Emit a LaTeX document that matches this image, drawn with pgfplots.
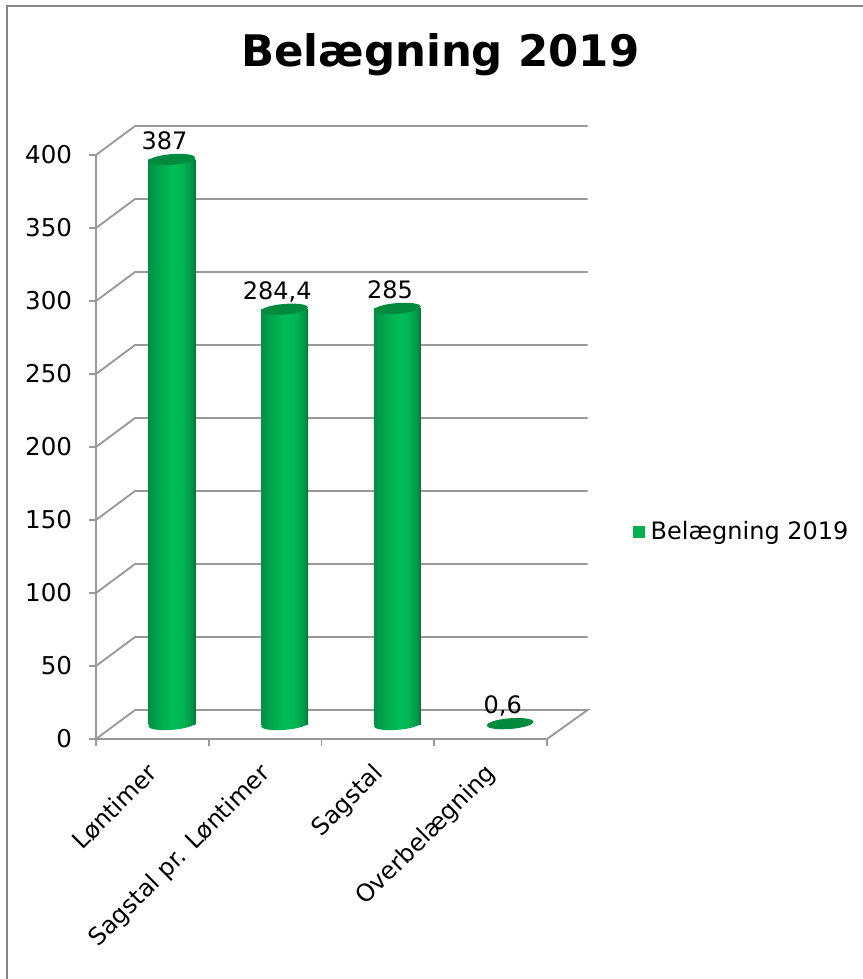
\documentclass[border=0pt]{standalone}
\usepackage{fontspec}
\setmainfont{DejaVu Sans}
\usepackage{pgfplots}
\pgfplotsset{compat=1.18}

\definecolor{gridc}{HTML}{999999}
\definecolor{framec}{HTML}{868686}
\definecolor{cyltopc}{HTML}{008A3E}
\definecolor{legendc}{HTML}{00B050}

% left to right shading of a cylinder; the path covers 25bp..75bp
\pgfdeclarehorizontalshading{cyl}{100bp}{
  rgb(0bp)=(0,0.56,0.27);
  rgb(25bp)=(0,0.56,0.27);
  rgb(40bp)=(0,0.68,0.32);
  rgb(52bp)=(0,0.74,0.34);
  rgb(62bp)=(0,0.70,0.33);
  rgb(70bp)=(0,0.60,0.29);
  rgb(75bp)=(0,0.47,0.23);
  rgb(100bp)=(0,0.47,0.23)}

\pgfdeclareplotmark{cyltop}{%
  \pgfpathellipse{\pgfpointorigin}{\pgfqpoint{17.6pt}{1.4pt}}{\pgfqpoint{-0.3pt}{4pt}}%
  \pgfusepathqfill}
\pgfdeclareplotmark{cylbase}{%
  \pgfpathellipse{\pgfpointorigin}{\pgfqpoint{17.6pt}{1.4pt}}{\pgfqpoint{-0.3pt}{4pt}}%
  \pgfshadepath{cyl}{0}\pgfusepath{discard}}

\pgfplotsset{
  wall/.style={gridc,line width=1.4pt},
  cylbar/.style={ybar,bar width=35.25pt,bar shift=0pt,draw=none,shading=cyl},
}

\begin{document}
\begin{tikzpicture}
  \path[use as bounding box] (0,0) rectangle (647.25pt,734.25pt);
  \draw[framec,line width=1.5pt] (5.25pt,0) -- (5.25pt,729.75pt) -- (647.25pt,729.75pt);

  % front plane with the ticks, back wall lines
  \begin{axis}[
    at={(72pt,180pt)},
    anchor=south west,
    scale only axis,
    width=338.25pt,
    height=438pt,
    xmin=0, xmax=4,
    ymin=0, ymax=400,
    clip=false,
    axis lines=left,
    axis line style={-,gridc,line width=1.4pt},
    tick align=outside,
    xtick={0.5,1.5,2.5,3.5},
    xticklabels={Løntimer,Sagstal pr. Løntimer,Sagstal,Overbelægning},
    minor xtick={0,1,2,3,4},
    ytick={0,50,...,400},
    major tick length=5.25pt,
    minor tick length=5.25pt,
    major x tick style={draw=none},
    minor x tick style={gridc,line width=1.4pt},
    y tick style={gridc,line width=1.4pt},
    /pgf/number format/assume math mode=true,
    tick label style={font=\fontsize{18}{20}\selectfont,text=black},
    yticklabel style={inner sep=0pt,xshift=-12.5pt,font=\fontsize{18.4}{20}\selectfont},
    xticklabel style={rotate=45,anchor=north east,inner sep=0pt,xshift=-11.8pt,yshift=-4.6pt},
    title={\textbf{Belægning 2019}},
    title style={at={(0.763,1.137)},anchor=base,inner sep=0pt,font=\fontsize{32.6}{36}\selectfont},
  ]
    \addplot[wall] coordinates {(4,0) (4.36,19.86) (0.346,19.86) (0,0)};
    \addplot[wall] coordinates {(0,50) (0.346,69.86) (4.36,69.86)};
    \addplot[wall] coordinates {(0,100) (0.346,119.86) (4.36,119.86)};
    \addplot[wall] coordinates {(0,150) (0.346,169.86) (4.36,169.86)};
    \addplot[wall] coordinates {(0,200) (0.346,219.86) (4.36,219.86)};
    \addplot[wall] coordinates {(0,250) (0.346,269.86) (4.36,269.86)};
    \addplot[wall] coordinates {(0,300) (0.346,319.86) (4.36,319.86)};
    \addplot[wall] coordinates {(0,350) (0.346,369.86) (4.36,369.86)};
    \addplot[wall] coordinates {(0,400) (0.346,419.86) (4.36,419.86)};
  \end{axis}

  % the cylinders stand half way back, so this axis is shifted
  \begin{axis}[
    at={(86.625pt,190.875pt)},
    anchor=south west,
    scale only axis,
    width=338.25pt,
    height=438pt,
    xmin=0, xmax=4,
    ymin=0, ymax=400,
    clip=false,
    hide axis,
    /pgf/number format/assume math mode=true,
    /pgf/number format/use comma,
    legend style={at={(1.146,0.33)},anchor=west,draw=none,fill=none,inner sep=0pt,
      font=\fontsize{18}{20}\selectfont,text=black},
    legend image code/.code={\fill[legendc,draw=none,shade=false] (0pt,-4.7pt) rectangle (9.4pt,4.7pt);
      \path (11.6pt,0pt);},
  ]
    % one plot per bar, so the shading fits each cylinder
    % (0,6 is only the top ellipse, a bar that low would show its corners)
    \addplot[cylbar] coordinates {(0.5,387)};
    \addlegendentry{Belægning 2019}
    \addplot[cylbar,forget plot] coordinates {(1.5,284.4)};
    \addplot[cylbar,forget plot] coordinates {(2.5,285)};
    \addplot[only marks,mark=cylbase,mark options={draw=none},forget plot]
      coordinates {(0.5,0) (1.5,0) (2.5,0)};
    \addplot[only marks,mark=cyltop,mark options={fill=cyltopc,draw=none},forget plot,
      nodes near coords,
      nodes near coords style={anchor=base,inner sep=0pt,xshift=-5.5pt,yshift=7.5pt,
        font=\fontsize{18}{20}\selectfont,text=black}]
      coordinates {(0.5,387) (1.5,284.4) (2.5,285) (3.5,0.6)};
  \end{axis}
\end{tikzpicture}
\end{document}
